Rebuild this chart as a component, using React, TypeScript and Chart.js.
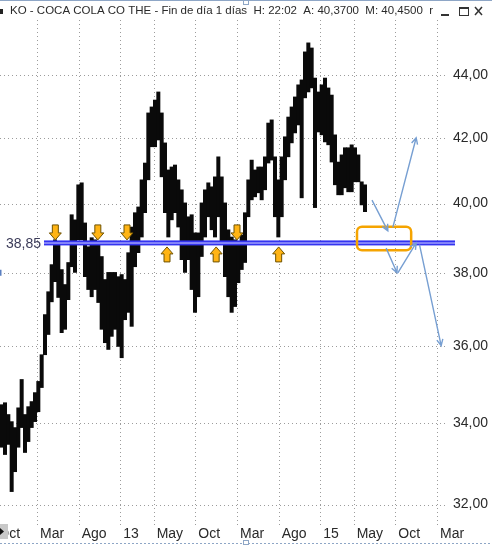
import { useEffect, useRef } from "react";
import { Chart, registerables } from "chart.js";

Chart.register(...registerables);

const TITLE = "KO - COCA COLA CO THE - Fin de día 1 días  H: 22:02  A: 40,3700  M: 40,4500  r";

// Time axis: months counted from March 2012 (= 0)
const tickMonths = [-5, 0, 5, 10, 14, 19, 24, 29, 34, 38, 43, 48];
const tickLabels = ["Oct", "Mar", "Ago", "13", "May", "Oct", "Mar", "Ago", "15", "May", "Oct", "Mar"];
const priceTicks = [32, 34, 36, 38, 40, 42, 44];

// Price ranges (low / high), one bar every STEP months starting at FIRST_MONTH
const FIRST_MONTH = -4.24;
const STEP = 0.4;
const highs = [
  34.46, 34.51, 34.21, 34.03, 33.88, 34.38, 35.11, 34.21, 34.41, 34.54,
  34.77, 35.06, 35.76, 36.84, 37.47, 38.23, 38.94, 38.8, 38.09, 37.67,
  38.29, 39.67, 39.52, 40.56, 40.62, 39.43, 38.74, 39.0, 38.94, 38.86,
  38.46, 37.81, 38.01, 38.01, 38.01, 37.89, 37.95, 37.81, 38.57, 39.31,
  39.73, 39.9, 40.71, 41.22, 42.78, 42.97, 43.19, 43.45, 42.78, 41.84,
  41.01, 41.1, 41.16, 40.71, 40.41, 40.02, 39.61, 39.67, 39.14, 39.14,
  40.02, 40.41, 40.62, 40.5, 40.8, 41.41, 40.8, 40.02, 39.23, 39.02,
  38.94, 38.86, 39.08, 39.73, 40.71, 41.31, 41.01, 41.1, 41.1, 41.41,
  42.46, 42.56, 41.41, 40.71, 41.41, 42.03, 42.65, 42.97, 43.29, 43.68,
  43.84, 44.76, 45.06, 44.89, 43.9, 43.45, 43.68, 43.9, 43.58, 43.35,
  42.09, 41.25, 41.47, 41.69, 41.69, 41.78, 41.69, 41.47, 40.65, 40.56,
];
const lows = [
  33.39, 33.21, 33.46, 32.31, 32.79, 33.39, 33.88, 33.26, 33.53, 33.88,
  34.03, 34.28, 34.9, 35.76, 36.3, 37.19, 37.75, 37.31, 36.35, 36.44,
  37.25, 38.17, 38.01, 38.94, 38.94, 37.89, 37.53, 37.33, 37.53, 37.17,
  36.44, 36.08, 35.9, 36.25, 36.44, 35.98, 35.68, 36.7, 36.9, 36.52,
  38.17, 38.57, 39.02, 39.73, 40.71, 41.72, 41.72, 41.93, 40.8, 39.73,
  39.02, 39.52, 39.73, 39.31, 38.37, 38.01, 38.37, 37.53, 36.9, 37.33,
  38.46, 39.02, 39.61, 39.23, 39.02, 39.61, 38.86, 37.89, 37.33, 36.9,
  37.06, 37.72, 38.09, 38.29, 39.61, 40.11, 40.2, 40.32, 40.11, 40.41,
  41.22, 41.31, 39.61, 39.02, 39.61, 40.71, 41.41, 41.84, 42.15, 42.4,
  40.17, 43.26, 43.45, 43.58, 39.88, 42.18, 42.09, 41.87, 41.78, 41.25,
  40.56, 40.26, 40.26, 40.47, 40.35, 40.35, 40.65, 40.65, 39.96, 39.76,
];

// Support level and the touches marked on it
const SUPPORT = 38.85;
const touchesFromAbove = [2.2, 7.3, 10.8, 24.0];
const touchesFromBelow = [15.6, 21.5, 29.0];

// Projected scenarios: [fromMonth, fromPrice, toMonth, toPrice]
const scenarios = [
  [40.2, 40.1, 42.1, 39.2],
  [42.7, 39.3, 45.5, 42.0],
  [41.9, 38.7, 43.2, 38.0],
  [43.3, 38.0, 45.5, 38.85],
  [45.9, 38.8, 48.5, 36.0],
];
// Decision zone: [fromMonth, topPrice, toMonth, bottomPrice]
const decisionZone = [38.4, 39.32, 44.9, 38.64];

const X_MIN = -5.88;
const X_MAX = 49.32;
const Y_MIN = 31.52;
const Y_MAX = 45.83;
const SHIFT = 12;
const FONT = '"Liberation Sans", Arial, sans-serif';

const fmtPrice = (v: number) => v.toFixed(2).replace(".", ",");

function drawBlockArrow(ctx: CanvasRenderingContext2D, cx: number, tipY: number, dir: 1 | -1) {
  // dir = 1 points down, -1 points up
  const h = 7, hw = 6, sw = 3, len = 15;
  ctx.beginPath();
  ctx.moveTo(cx - sw, tipY - dir * len);
  ctx.lineTo(cx + sw, tipY - dir * len);
  ctx.lineTo(cx + sw, tipY - dir * h);
  ctx.lineTo(cx + hw, tipY - dir * h);
  ctx.lineTo(cx, tipY);
  ctx.lineTo(cx - hw, tipY - dir * h);
  ctx.lineTo(cx - sw, tipY - dir * h);
  ctx.closePath();
  ctx.fillStyle = "#ffb414";
  ctx.fill();
  ctx.lineWidth = 1;
  ctx.strokeStyle = "#6e5200";
  ctx.stroke();
}

function drawLineArrow(ctx: CanvasRenderingContext2D, x1: number, y1: number, x2: number, y2: number) {
  const a = Math.atan2(y2 - y1, x2 - x1);
  const L = 7, spread = 0.45;
  ctx.beginPath();
  ctx.moveTo(x1, y1);
  ctx.lineTo(x2, y2);
  ctx.moveTo(x2 - L * Math.cos(a - spread), y2 - L * Math.sin(a - spread));
  ctx.lineTo(x2, y2);
  ctx.lineTo(x2 - L * Math.cos(a + spread), y2 - L * Math.sin(a + spread));
  ctx.stroke();
}

const decorations = {
  id: "decorations",
  beforeDatasetsDraw(chart: any) {
    const { ctx, chartArea: a, scales } = chart;
    ctx.save();
    ctx.strokeStyle = "#9c9c9c";
    ctx.lineWidth = 1;
    ctx.setLineDash([1, 3]);
    for (const m of tickMonths) {
      const x = Math.round(scales.x.getPixelForValue(m)) + 0.5;
      if (x < a.left || x > a.right) continue;
      ctx.beginPath();
      ctx.moveTo(x, a.top);
      ctx.lineTo(x, a.bottom);
      ctx.stroke();
    }
    for (const p of priceTicks) {
      const y = Math.round(scales.y.getPixelForValue(p)) + 0.5;
      ctx.beginPath();
      ctx.moveTo(a.left, y);
      ctx.lineTo(a.right, y);
      ctx.stroke();
    }
    ctx.restore();
  },
  afterDatasetsDraw(chart: any) {
    const { ctx, chartArea: a, scales } = chart;
    const px = (m: number) => scales.x.getPixelForValue(m);
    const py = (p: number) => scales.y.getPixelForValue(p);
    ctx.save();

    // support line (double blue rule)
    const sy = py(SUPPORT);
    const x0 = SHIFT + 44;
    const x1 = a.right + 7;
    ctx.fillStyle = "#3434f0";
    ctx.fillRect(x0, sy - 2.5, x1 - x0, 5);
    ctx.fillStyle = "#b9b9ff";
    ctx.fillRect(x0, sy - 0.5, x1 - x0, 1.2);

    ctx.fillStyle = "#3b3b58";
    ctx.font = `14px ${FONT}`;
    ctx.textAlign = "left";
    ctx.textBaseline = "middle";
    ctx.fillText(fmtPrice(SUPPORT), SHIFT + 6, sy + 1);

    for (const m of touchesFromAbove) drawBlockArrow(ctx, px(m), sy - 3, 1);
    for (const m of touchesFromBelow) drawBlockArrow(ctx, px(m), sy + 4, -1);

    // decision zone
    const [zm0, zp0, zm1, zp1] = decisionZone;
    const rx = px(zm0), ry = py(zp0), rw = px(zm1) - rx, rh = py(zp1) - ry, r = 5;
    ctx.beginPath();
    ctx.moveTo(rx + r, ry);
    ctx.arcTo(rx + rw, ry, rx + rw, ry + rh, r);
    ctx.arcTo(rx + rw, ry + rh, rx, ry + rh, r);
    ctx.arcTo(rx, ry + rh, rx, ry, r);
    ctx.arcTo(rx, ry, rx + rw, ry, r);
    ctx.closePath();
    ctx.strokeStyle = "#f5a400";
    ctx.lineWidth = 2.5;
    ctx.stroke();

    // scenario paths
    ctx.strokeStyle = "#779fd2";
    ctx.lineWidth = 1.4;
    for (const [m0, p0, m1, p1] of scenarios) drawLineArrow(ctx, px(m0), py(p0), px(m1), py(p1));

    // small marker on the left edge
    ctx.fillStyle = "#5a7fc0";
    ctx.fillRect(SHIFT, py(38) - 3, 1.5, 6);
    ctx.restore();
  },
  afterDraw(chart: any) {
    const { ctx, width, height } = chart;
    ctx.save();
    // title bar
    ctx.fillStyle = "#222";
    ctx.fillRect(SHIFT, 9, 3, 5);
    ctx.font = `11.5px ${FONT}`;
    ctx.textAlign = "left";
    ctx.textBaseline = "middle";
    ctx.fillStyle = "#2a2a2a";
    ctx.fillText(TITLE, SHIFT + 10, 11);
    // window buttons
    ctx.fillStyle = "#333";
    ctx.fillRect(SHIFT + 441, 14, 8, 2);
    ctx.strokeStyle = "#333";
    ctx.lineWidth = 1;
    ctx.strokeRect(SHIFT + 459.5, 7.5, 9, 8);
    ctx.fillRect(SHIFT + 459.5, 7, 9, 2);
    ctx.lineWidth = 1.5;
    ctx.beginPath();
    ctx.moveTo(SHIFT + 475, 7);
    ctx.lineTo(SHIFT + 482, 15);
    ctx.moveTo(SHIFT + 482, 7);
    ctx.lineTo(SHIFT + 475, 15);
    ctx.stroke();
    // frame
    ctx.strokeStyle = "#8ea6c6";
    ctx.lineWidth = 1;
    ctx.beginPath();
    ctx.moveTo(0, 0.5);
    ctx.lineTo(width, 0.5);
    ctx.stroke();
    ctx.setLineDash([2, 2]);
    ctx.beginPath();
    ctx.moveTo(0, height - 1.5);
    ctx.lineTo(width, height - 1.5);
    ctx.stroke();
    ctx.setLineDash([]);
    ctx.fillStyle = "#fff";
    ctx.fillRect(SHIFT + 243, 0, 5, 4);
    ctx.strokeRect(SHIFT + 243.5, 0.5, 5, 4);
    ctx.fillRect(SHIFT + 243, height - 5, 5, 4);
    ctx.strokeRect(SHIFT + 243.5, height - 4.5, 5, 4);
    // scroll marker in the lower left corner
    ctx.fillStyle = "#c8c8c8";
    ctx.fillRect(SHIFT, 524, 8, 15);
    ctx.fillStyle = "#111";
    ctx.beginPath();
    ctx.moveTo(SHIFT, 528);
    ctx.lineTo(SHIFT + 4, 531.5);
    ctx.lineTo(SHIFT, 535);
    ctx.closePath();
    ctx.fill();
    ctx.restore();
  },
};

export default function App() {
  const ref = useRef<HTMLCanvasElement | null>(null);

  useEffect(() => {
    const canvas = ref.current;
    if (!canvas) return;
    const bars = highs.map((h, i) => ({ x: FIRST_MONTH + i * STEP, y: [lows[i], h] }));
    const chart = new Chart(canvas, {
      type: "bar",
      data: {
        datasets: [
          {
            data: bars as any,
            backgroundColor: "#0a0a0a",
            borderWidth: 0,
            barPercentage: 1,
            categoryPercentage: 1,
          },
        ],
      },
      options: {
        animation: false,
        responsive: true,
        maintainAspectRatio: false,
        events: [],
        layout: { padding: { top: 20, left: 0, right: 0, bottom: 0 } },
        plugins: { legend: { display: false }, tooltip: { enabled: false } },
        scales: {
          x: {
            type: "linear",
            min: X_MIN,
            max: X_MAX,
            offset: false,
            grid: { display: false, drawTicks: false },
            border: { display: false },
            afterBuildTicks: (scale: any) => {
              scale.ticks = tickMonths.map((v) => ({ value: v }));
            },
            afterFit: (scale: any) => {
              scale.height = 20;
            },
            ticks: {
              autoSkip: false,
              maxRotation: 0,
              align: "start",
              labelOffset: 3,
              padding: 1,
              color: "#2a2a2a",
              font: { family: FONT, size: 14 },
              callback: (v: any) => {
                const i = tickMonths.indexOf(Number(v));
                return i >= 0 ? tickLabels[i] : "";
              },
            },
          },
          y: {
            type: "logarithmic",
            position: "right",
            min: Y_MIN,
            max: Y_MAX,
            grid: { display: false, drawTicks: false },
            border: { display: false },
            afterBuildTicks: (scale: any) => {
              scale.ticks = priceTicks.map((v) => ({ value: v }));
            },
            afterFit: (scale: any) => {
              scale.width = 44;
            },
            ticks: {
              padding: 5,
              color: "#2a2a2a",
              font: { family: FONT, size: 14 },
              callback: (v: any) => fmtPrice(Number(v)),
            },
          },
        },
      },
      plugins: [decorations],
    });
    return () => chart.destroy();
  }, []);

  return (
    <div
      style={{
        position: "fixed",
        left: 0,
        top: 0,
        width: 492,
        height: 545,
        overflow: "hidden",
        background: "#fff",
      }}
    >
      <div style={{ position: "absolute", left: -SHIFT, top: 0, width: 492 + SHIFT, height: 545 }}>
        <canvas ref={ref} />
      </div>
    </div>
  );
}
